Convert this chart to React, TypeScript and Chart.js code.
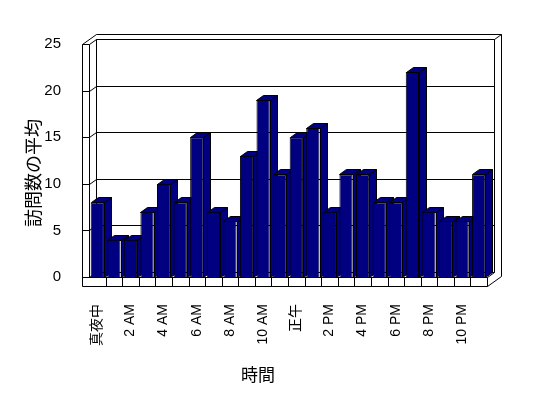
import React, { useEffect, useRef } from 'react';
import { Chart, registerables } from 'chart.js';

Chart.register(...registerables);

// ---- data ----
const hourLabels = [
  '真夜中', '1 AM', '2 AM', '3 AM', '4 AM', '5 AM', '6 AM', '7 AM', '8 AM', '9 AM', '10 AM', '11 AM',
  '正午', '1 PM', '2 PM', '3 PM', '4 PM', '5 PM', '6 PM', '7 PM', '8 PM', '9 PM', '10 PM', '11 PM',
];
const avgVisits = [8, 4, 4, 7, 10, 8, 15, 7, 6, 13, 19, 11, 15, 16, 7, 11, 11, 8, 8, 22, 7, 6, 6, 11];
const yTickValues = [0, 5, 10, 15, 20, 25];
const yTitle = '訪問数の平均';
const xTitle = '時間';

// ---- style ----
const FONT = "'Liberation Sans', 'Noto Sans CJK JP', sans-serif";
const TITLE_FONT = "'Noto Sans CJK JP', 'Liberation Sans', sans-serif";
const NAVY = '#000080';
const DX = 7;
const DY = -5;
const WALL = 7;
const FLOOR = 9;

const c = (v: number) => Math.round(v) + 0.5;

const excel3d = {
  id: 'excel3d',
  beforeDatasetsDraw(chart: any) {
    const { ctx, chartArea, scales } = chart;
    const ys = scales.y;
    const L = chartArea.left;
    const R = chartArea.right;
    const yMax = yTickValues[yTickValues.length - 1];
    const T = ys.getPixelForValue(yMax);
    const B = ys.getPixelForValue(0);
    ctx.save();
    ctx.strokeStyle = '#000';
    ctx.lineWidth = 1;
    const path = (pts: number[][], fill?: string) => {
      ctx.beginPath();
      pts.forEach(([x, y], i) => (i ? ctx.lineTo(c(x), c(y)) : ctx.moveTo(c(x), c(y))));
      if (fill) {
        ctx.closePath();
        ctx.fillStyle = fill;
        ctx.fill();
      }
      ctx.stroke();
    };
    // back wall inner face
    path([[L + DX, B + DY], [L + DX, T + DY], [R + DX, T + DY], [R + DX, B + DY]]);
    // gridlines and left wall ticks
    yTickValues.forEach((v) => {
      const y = ys.getPixelForValue(v);
      path([[L - WALL, y], [L, y], [L + DX, y + DY], [R + DX, y + DY]]);
    });
    // left wall front inner edge
    path([[L, T], [L, B]]);
    // floor front
    path([[L - WALL, B], [R, B], [R, B + FLOOR]]);
    path([[R, B], [R + DX, B + DY]]);
    // outer contour
    path([
      [L - WALL, B + FLOOR], [L - WALL, T], [L - WALL + 2 * DX, T + 2 * DY],
      [R + 2 * DX, T + 2 * DY], [R + 2 * DX, B + FLOOR + 2 * DY], [R, B + FLOOR], [L - WALL, B + FLOOR],
    ]);
    path([[R + DX, T + DY], [R + 2 * DX, T + 2 * DY]]);
    // floor dividers
    const n = hourLabels.length;
    const cw = (R - L) / n;
    for (let i = 1; i < n; i++) {
      const x = L + i * cw;
      path([[x, B], [x, B + FLOOR]]);
    }
    // bar tops and sides
    const meta = chart.getDatasetMeta(0);
    meta.data.forEach((el: any) => {
      const { x, y, width, base } = el.getProps(['x', 'y', 'width', 'base'], true);
      const l = x - width / 2;
      const r = x + width / 2;
      path([[r, y], [r + DX, y + DY], [r + DX, base + DY], [r, base]], NAVY);
      path([[l, y], [l + DX, y + DY], [r + DX, y + DY], [r, y]], NAVY);
    });
    ctx.restore();
  },
  afterDraw(chart: any) {
    const { ctx } = chart;
    ctx.save();
    ctx.fillStyle = '#000';
    ctx.font = `17px ${TITLE_FONT}`;
    ctx.textAlign = 'center';
    ctx.textBaseline = 'middle';
    ctx.fillText(xTitle, 258, 375);
    ctx.font = `18px ${TITLE_FONT}`;
    ctx.translate(33, 173);
    ctx.rotate(-Math.PI / 2);
    ctx.fillText(yTitle, 0, 0);
    ctx.restore();
  },
};

export default function App() {
  const ref = useRef<HTMLCanvasElement>(null);
  useEffect(() => {
    if (!ref.current) return;
    const chart = new Chart(ref.current, {
      type: 'bar',
      data: {
        labels: hourLabels,
        datasets: [
          {
            data: avgVisits,
            backgroundColor: NAVY,
            borderColor: '#000',
            borderWidth: 1,
            barPercentage: 0.8,
            categoryPercentage: 1,
          },
        ],
      },
      options: {
        responsive: false,
        animation: false,
        devicePixelRatio: 1,
        layout: { padding: { left: 0, right: 61, top: 44, bottom: 0 } },
        plugins: { legend: { display: false }, tooltip: { enabled: false } },
        scales: {
          y: {
            min: 0,
            max: 25,
            afterFit: (s: any) => {
              s.width = 89;
            },
            afterBuildTicks: (s: any) => {
              s.ticks = yTickValues.map((v) => ({ value: v }));
            },
            grid: { display: false },
            border: { display: false },
            ticks: { color: '#000', font: { family: FONT, size: 15 }, padding: 20 },
          },
          x: {
            afterFit: (s: any) => {
              s.height = 121;
            },
            grid: { display: false },
            border: { display: false },
            ticks: {
              color: '#000',
              font: { family: FONT, size: 14 },
              autoSkip: false,
              maxRotation: 90,
              minRotation: 90,
              padding: 19,
              callback: (_v: any, i: number) => (i % 2 === 0 ? hourLabels[i] : ''),
            },
          },
        },
      },
      plugins: [excel3d],
    });
    return () => chart.destroy();
  }, []);
  return (
    <div style={{ position: 'fixed', left: 0, top: 0, width: 548, height: 398, background: '#fff' }}>
      <canvas ref={ref} width={548} height={398} />
    </div>
  );
}
